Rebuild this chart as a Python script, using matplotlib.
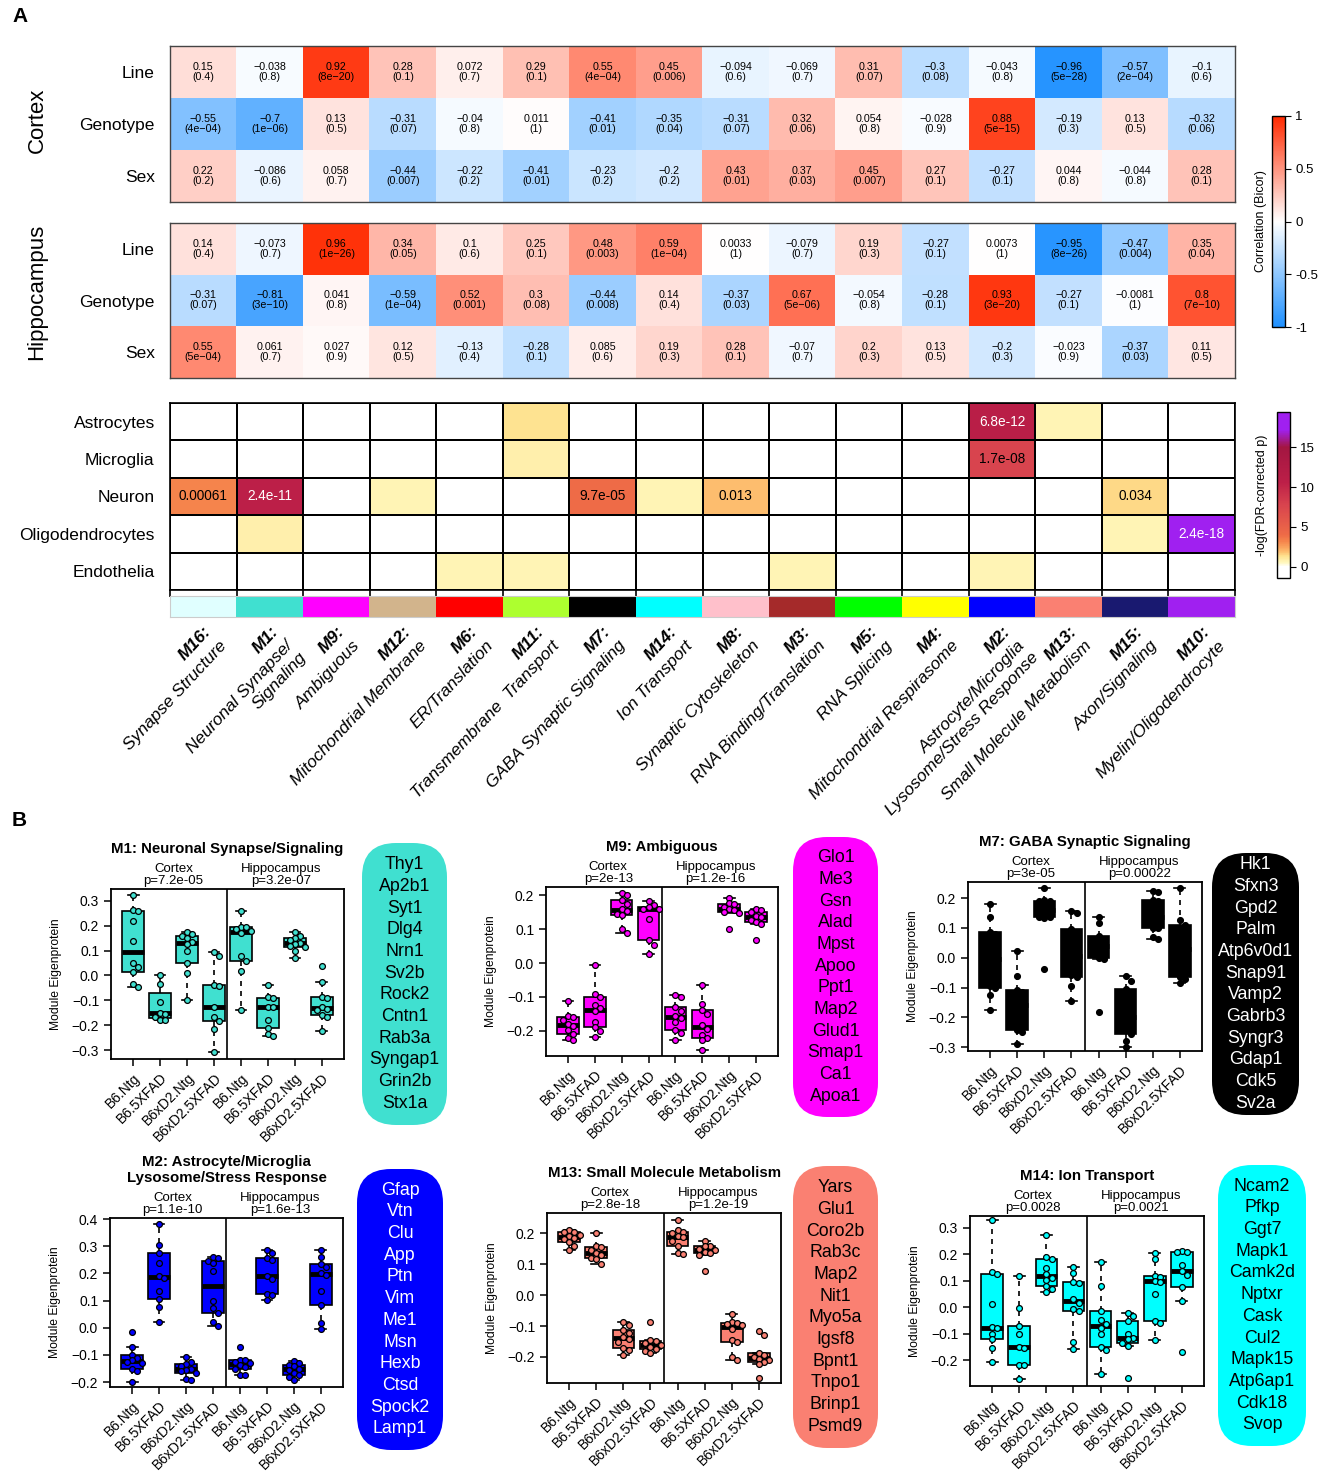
import numpy as np
import matplotlib
matplotlib.use("Agg")
import matplotlib.pyplot as plt
from matplotlib.colors import LinearSegmentedColormap, Normalize, to_rgb
from matplotlib.patches import FancyBboxPatch
from matplotlib.cm import ScalarMappable

plt.rcParams['font.family'] = ['Liberation Sans', 'DejaVu Sans']

W, H = 1325, 1471

# ---------------- panel A data ----------------
modules = ["M16", "M1", "M9", "M12", "M6", "M11", "M7", "M14",
           "M8", "M3", "M5", "M4", "M2", "M13", "M15", "M10"]
module_names = ["Synapse Structure", "Neuronal Synapse/\nSignaling", "Ambiguous",
                "Mitochondrial Membrane", "ER/Translation", "Transmembrane  Transport",
                "GABA Synaptic Signaling", "Ion Transport", "Synaptic Cytoskeleton",
                "RNA Binding/Translation", "RNA Splicing", "Mitochondrial Respirasome",
                "Astrocyte/Microglia\nLysosome/Stress Response", "Small Molecule Metabolism",
                "Axon/Signaling", "Myelin/Oligodendrocyte"]
module_colors = ["#E0FFFF", "#40E0D0", "#FF00FF", "#D2B48C", "#FF0000", "#ADFF2F",
                 "#000000", "#00FFFF", "#FFC0CB", "#A52A2A", "#00FF00", "#FFFF00",
                 "#0000FF", "#FA8072", "#191970", "#A020F0"]

trait_rows = ["Line", "Genotype", "Sex"]

cortex_r = [
    [0.15, -0.038, 0.92, 0.28, 0.072, 0.29, 0.55, 0.45, -0.094, -0.069, 0.31, -0.3, -0.043, -0.96, -0.57, -0.1],
    [-0.55, -0.7, 0.13, -0.31, -0.04, 0.011, -0.41, -0.35, -0.31, 0.32, 0.054, -0.028, 0.88, -0.19, 0.13, -0.32],
    [0.22, -0.086, 0.058, -0.44, -0.22, -0.41, -0.23, -0.2, 0.43, 0.37, 0.45, 0.27, -0.27, 0.044, -0.044, 0.28],
]
cortex_p = [
    ["0.4", "0.8", "8e-20", "0.1", "0.7", "0.1", "4e-04", "0.006", "0.6", "0.7", "0.07", "0.08", "0.8", "5e-28", "2e-04", "0.6"],
    ["4e-04", "1e-06", "0.5", "0.07", "0.8", "1", "0.01", "0.04", "0.07", "0.06", "0.8", "0.9", "5e-15", "0.3", "0.5", "0.06"],
    ["0.2", "0.6", "0.7", "0.007", "0.2", "0.01", "0.2", "0.2", "0.01", "0.03", "0.007", "0.1", "0.1", "0.8", "0.8", "0.1"],
]
hippo_r = [
    [0.14, -0.073, 0.96, 0.34, 0.1, 0.25, 0.48, 0.59, 0.0033, -0.079, 0.19, -0.27, 0.0073, -0.95, -0.47, 0.35],
    [-0.31, -0.81, 0.041, -0.59, 0.52, 0.3, -0.44, 0.14, -0.37, 0.67, -0.054, -0.28, 0.93, -0.27, -0.0081, 0.8],
    [0.55, 0.061, 0.027, 0.12, -0.13, -0.28, 0.085, 0.19, 0.28, -0.07, 0.2, 0.13, -0.2, -0.023, -0.37, 0.11],
]
hippo_p = [
    ["0.4", "0.7", "1e-26", "0.05", "0.6", "0.1", "0.003", "1e-04", "1", "0.7", "0.3", "0.1", "1", "8e-26", "0.004", "0.04"],
    ["0.07", "3e-10", "0.8", "1e-04", "0.001", "0.08", "0.008", "0.4", "0.03", "5e-06", "0.8", "0.1", "3e-20", "0.1", "1", "7e-10"],
    ["5e-04", "0.7", "0.9", "0.5", "0.4", "0.1", "0.6", "0.3", "0.1", "0.7", "0.3", "0.5", "0.3", "0.9", "0.03", "0.5"],
]

celltype_rows = ["Astrocytes", "Microglia", "Neuron", "Oligodendrocytes", "Endothelia"]
# -log10(FDR p) per cell type x module
celltype_logp = [
    [0, 0, 0, 0, 0, 1.3, 0, 0, 0, 0, 0, 0, 11.17, 0.7, 0, 0],
    [0, 0, 0, 0, 0, 0.8, 0, 0, 0, 0, 0, 0, 7.77, 0, 0, 0],
    [3.21, 10.62, 0, 0.7, 0, 0, 4.01, 0.7, 1.89, 0, 0, 0, 0, 0, 1.47, 0],
    [0, 0.8, 0, 0, 0, 0, 0, 0, 0, 0, 0, 0, 0, 0, 0.7, 17.62],
    [0, 0, 0, 0, 0.7, 0.7, 0, 0, 0, 0.7, 0, 0, 0.7, 0, 0, 0],
]
celltype_text = [
    ["", "", "", "", "", "", "", "", "", "", "", "", "6.8e-12", "", "", ""],
    ["", "", "", "", "", "", "", "", "", "", "", "", "1.7e-08", "", "", ""],
    ["0.00061", "2.4e-11", "", "", "", "", "9.7e-05", "", "0.013", "", "", "", "", "", "0.034", ""],
    ["", "", "", "", "", "", "", "", "", "", "", "", "", "", "", "2.4e-18"],
    ["", "", "", "", "", "", "", "", "", "", "", "", "", "", "", ""],
]

# ---------------- panel B data ----------------
groups = ["B6.Ntg", "B6.5XFAD", "B6xD2.Ntg", "B6xD2.5XFAD"] * 2

m1_eig = [
    [0.324, 0.264, 0.26, 0.22, 0.14, 0.05, 0.036, 0.016, -0.034, -0.047],
    [0.0, -0.034, -0.107, -0.15, -0.155, -0.168, -0.178, -0.181],
    [0.177, 0.165, 0.158, 0.152, 0.135, 0.128, 0.097, 0.052, 0.012, -0.098],
    [0.093, 0.077, -0.037, -0.044, -0.125, -0.165, -0.185, -0.216, -0.306],
    [0.258, 0.197, 0.195, 0.186, 0.178, 0.172, 0.079, 0.059, 0.02, -0.138],
    [-0.04, -0.085, -0.092, -0.125, -0.128, -0.18, -0.21, -0.236, -0.244],
    [0.173, 0.16, 0.15, 0.143, 0.132, 0.128, 0.12, 0.114, 0.097, 0.07],
    [0.04, -0.027, -0.087, -0.09, -0.125, -0.134, -0.138, -0.16, -0.165, -0.225],
]
m9_eig = [
    [-0.112, -0.155, -0.16, -0.168, -0.18, -0.185, -0.198, -0.208, -0.22, -0.227],
    [-0.006, -0.09, -0.1, -0.125, -0.134, -0.142, -0.173, -0.19, -0.201, -0.218],
    [0.207, 0.2, 0.186, 0.175, 0.158, 0.153, 0.145, 0.141, 0.099, 0.087],
    [0.183, 0.17, 0.164, 0.16, 0.159, 0.131, 0.067, 0.053, 0.028],
    [-0.095, -0.1, -0.131, -0.14, -0.155, -0.162, -0.175, -0.198, -0.205, -0.226],
    [-0.065, -0.12, -0.137, -0.15, -0.183, -0.195, -0.213, -0.222, -0.228, -0.257],
    [0.192, 0.176, 0.175, 0.165, 0.16, 0.157, 0.15, 0.146, 0.099],
    [0.16, 0.155, 0.15, 0.14, 0.136, 0.128, 0.121, 0.115, 0.067],
]
m7_eig = [
    [0.181, 0.135, 0.085, 0.08, 0.02, -0.03, -0.095, -0.1, -0.126, -0.176],
    [0.024, -0.06, -0.11, -0.115, -0.16, -0.2, -0.244, -0.25, -0.29],
    [0.234, 0.194, 0.19, 0.189, 0.17, 0.15, 0.138, 0.135, 0.133, -0.039],
    [0.156, 0.149, 0.096, 0.08, 0.02, -0.01, -0.058, -0.065, -0.096, -0.145],
    [0.136, 0.115, 0.073, 0.06, 0.04, 0.03, 0.0, -0.005, -0.182],
    [-0.062, -0.078, -0.106, -0.15, -0.2, -0.24, -0.255, -0.278, -0.298],
    [0.225, 0.219, 0.194, 0.19, 0.15, 0.12, 0.1, 0.098, 0.071, 0.063],
    [0.234, 0.125, 0.11, 0.08, 0.03, -0.02, -0.065, -0.07, -0.084],
]
m2_eig = [
    [-0.015, -0.07, -0.1, -0.112, -0.12, -0.125, -0.13, -0.153, -0.16, -0.199],
    [0.382, 0.304, 0.274, 0.24, 0.19, 0.185, 0.136, 0.107, 0.077, 0.022],
    [-0.107, -0.125, -0.135, -0.14, -0.15, -0.156, -0.16, -0.166, -0.19, -0.193],
    [0.261, 0.255, 0.247, 0.239, 0.21, 0.1, 0.071, 0.053, 0.02, 0.007],
    [-0.07, -0.117, -0.12, -0.125, -0.13, -0.138, -0.145, -0.15, -0.172, -0.175],
    [0.286, 0.275, 0.258, 0.25, 0.19, 0.18, 0.124, 0.119, 0.102],
    [-0.121, -0.128, -0.137, -0.142, -0.15, -0.156, -0.165, -0.172, -0.183, -0.193],
    [0.286, 0.259, 0.233, 0.225, 0.2, 0.196, 0.136, 0.085, 0.016, -0.005],
]
m13_eig = [
    [0.211, 0.205, 0.203, 0.195, 0.19, 0.185, 0.18, 0.171, 0.16, 0.144],
    [0.2, 0.157, 0.155, 0.145, 0.135, 0.13, 0.12, 0.115, 0.101],
    [-0.087, -0.096, -0.114, -0.123, -0.135, -0.141, -0.15, -0.17, -0.178, -0.195],
    [-0.087, -0.146, -0.148, -0.155, -0.162, -0.168, -0.175, -0.181, -0.187],
    [0.244, 0.209, 0.205, 0.2, 0.19, 0.188, 0.176, 0.159, 0.135, 0.133],
    [0.176, 0.16, 0.157, 0.15, 0.144, 0.14, 0.135, 0.128, 0.077],
    [-0.06, -0.087, -0.09, -0.094, -0.097, -0.11, -0.144, -0.15, -0.2, -0.209],
    [-0.116, -0.13, -0.187, -0.195, -0.2, -0.205, -0.21, -0.215, -0.222, -0.267],
]
m14_eig = [
    [0.328, 0.132, 0.127, 0.013, -0.075, -0.08, -0.1, -0.122, -0.156, -0.206],
    [0.119, -0.004, -0.071, -0.1, -0.149, -0.155, -0.219, -0.22, -0.272],
    [0.272, 0.19, 0.182, 0.15, 0.125, 0.112, 0.104, 0.082, 0.07, 0.058],
    [0.151, 0.129, 0.097, 0.09, 0.03, 0.015, -0.005, -0.016, -0.13, -0.159],
    [0.17, 0.082, -0.014, -0.05, -0.062, -0.08, -0.1, -0.149, -0.16, -0.254],
    [-0.023, -0.033, -0.054, -0.1, -0.118, -0.12, -0.134, -0.146, -0.267],
    [0.205, 0.184, 0.119, 0.115, 0.1, 0.095, 0.051, -0.054, -0.06, -0.124],
    [0.211, 0.21, 0.209, 0.158, 0.138, 0.12, 0.076, 0.025, -0.168],
]

m1_genes = ["Thy1", "Ap2b1", "Syt1", "Dlg4", "Nrn1", "Sv2b", "Rock2", "Cntn1", "Rab3a", "Syngap1", "Grin2b", "Stx1a"]
m9_genes = ["Glo1", "Me3", "Gsn", "Alad", "Mpst", "Apoo", "Ppt1", "Map2", "Glud1", "Smap1", "Ca1", "Apoa1"]
m7_genes = ["Hk1", "Sfxn3", "Gpd2", "Palm", "Atp6v0d1", "Snap91", "Vamp2", "Gabrb3", "Syngr3", "Gdap1", "Cdk5", "Sv2a"]
m2_genes = ["Gfap", "Vtn", "Clu", "App", "Ptn", "Vim", "Me1", "Msn", "Hexb", "Ctsd", "Spock2", "Lamp1"]
m13_genes = ["Yars", "Glu1", "Coro2b", "Rab3c", "Map2", "Nit1", "Myo5a", "Igsf8", "Bpnt1", "Tnpo1", "Brinp1", "Psmd9"]
m14_genes = ["Ncam2", "Pfkp", "Ggt7", "Mapk1", "Camk2d", "Nptxr", "Cask", "Cul2", "Mapk15", "Atp6ap1", "Cdk18", "Svop"]

m1_p = ("7.2e-05", "3.2e-07")
m9_p = ("2e-13", "1.2e-16")
m7_p = ("3e-05", "0.00022")
m2_p = ("1.1e-10", "1.6e-13")
m13_p = ("2.8e-18", "1.2e-19")
m14_p = ("0.0028", "0.0021")


# ---------------- helpers ----------------
def px_rect(x0, y0, x1, y1):
    return [x0 / W, 1 - y1 / H, (x1 - x0) / W, (y1 - y0) / H]


def minus(s):
    return s.replace("-", "\u2212")


def fivenum(v):
    x = np.sort(np.asarray(v, float))
    n = len(x)
    n4 = np.floor((n + 3) / 2) / 2
    d = np.array([1, n4, (n + 1) / 2, n + 1 - n4, n]) - 1
    return 0.5 * (x[np.floor(d).astype(int)] + x[np.ceil(d).astype(int)])


def swarm_offsets(vals, xstep, ystep):
    placed, offs = [], []
    for v in vals:
        for k in [0, 1, -1, 2, -2, 3, -3]:
            x = k * xstep
            if all(((x - px) / xstep) ** 2 + ((v - py) / ystep) ** 2 >= 0.99 for px, py in placed):
                break
        placed.append((x, v))
        offs.append(x)
    return np.array(offs)


fig = plt.figure(figsize=(W / 100, H / 100), dpi=100)

corr_cmap = LinearSegmentedColormap.from_list("bwr", ["#1E90FF", "#FFFFFF", "#FF2A00"])
ct_norm = Normalize(-1.4, 19.4)
ct_stops = [(-1.4, "#FFFFFF"), (0, "#FFFFFF"), (0.5, "#FFF7BC"), (1.3, "#FEE391"),
            (1.9, "#FDBB6C"), (3.2, "#F5834B"), (4.0, "#EE6B47"), (7.8, "#D8434E"),
            (10.6, "#BC1F48"), (15.0, "#A31641"), (17.2, "#A020F0"), (19.4, "#A020F0")]
ct_cmap = LinearSegmentedColormap.from_list(
    "ct", [(ct_norm(v), c) for v, c in ct_stops])


def corr_heatmap(rect, r, p):
    ax = fig.add_axes(px_rect(*rect))
    ax.imshow(np.array(r), cmap=corr_cmap, vmin=-1, vmax=1, aspect="auto",
              interpolation="nearest")
    for i in range(len(r)):
        for j in range(len(r[i])):
            ax.text(j, i, minus(f"{r[i][j]:g}\n({p[i][j]})"), ha="center", va="center",
                    fontsize=7.7, linespacing=1.0)
    ax.set_xticks([])
    ax.set_yticks(range(3), trait_rows, fontsize=12.5)
    ax.tick_params(axis="y", length=0, pad=11)
    for s in ax.spines.values():
        s.set_color("#444444")
        s.set_linewidth(1)
    return ax


corr_heatmap((170, 46, 1235, 202), cortex_r, cortex_p)
corr_heatmap((170, 223, 1235, 378), hippo_r, hippo_p)
fig.text(37 / W, 1 - 120 / H, "Cortex", rotation=90, ha="center", va="center", fontsize=16)
fig.text(37 / W, 1 - 292 / H, "Hippocampus", rotation=90, ha="center", va="center", fontsize=16)

# cell-type enrichment grid
ax = fig.add_axes(px_rect(170, 403, 1235, 590))
ax.pcolormesh(np.arange(17), np.arange(6), np.array(celltype_logp), cmap=ct_cmap,
              norm=ct_norm, edgecolors="black", linewidth=1.2)
ax.set_xlim(0, 16)
ax.set_ylim(5, 0)
for i in range(5):
    for j in range(16):
        lab = celltype_text[i][j]
        if lab:
            col = "white" if celltype_logp[i][j] > 9 else "black"
            ax.text(j + 0.5, i + 0.5, lab, ha="center", va="center", fontsize=9.8, color=col)
ax.set_yticks(np.arange(5) + 0.5, celltype_rows, fontsize=12.5)
ax.tick_params(axis="y", length=0, pad=11)
ax.set_xticks(np.arange(17))
ax.tick_params(axis="x", length=5, width=1.2, labelbottom=False)
for s in ax.spines.values():
    s.set_linewidth(1.2)

# module colour strip and labels
sax = fig.add_axes(px_rect(170, 596, 1235, 617))
sax.imshow([[to_rgb(c) for c in module_colors]], aspect="auto", extent=(-0.5, 15.5, 0, 1))
sax.set_xlim(-0.5, 15.5)
sax.set_xticks([])
sax.set_yticks([])
for s in sax.spines.values():
    s.set_color("#cccccc")
    s.set_linewidth(0.8)
ang = 47
L = 15.0
for j, (m, nm) in enumerate(zip(modules, module_names)):
    sax.annotate(m + ":", xy=(j, 0), xycoords=("data", "axes fraction"),
                 xytext=(0, -5), textcoords="offset points", rotation=ang,
                 rotation_mode="anchor", ha="right", va="top", fontsize=12.5,
                 fontweight="bold", fontstyle="italic")
    dx = L * np.sin(np.radians(ang))
    dy = -L * np.cos(np.radians(ang))
    sax.annotate(nm, xy=(j, 0), xycoords=("data", "axes fraction"),
                 xytext=(dx, -5 + dy), textcoords="offset points", rotation=ang,
                 rotation_mode="anchor", ha="right", va="top", fontsize=12.5,
                 fontstyle="italic", multialignment="right", linespacing=1.2)

# colour bars
cax1 = fig.add_axes(px_rect(1272, 116, 1285, 327))
cb1 = fig.colorbar(ScalarMappable(Normalize(-1, 1), corr_cmap), cax=cax1,
                   ticks=[-1, -0.5, 0, 0.5, 1])
cb1.ax.set_yticklabels(["-1", "-0.5", "0", "0.5", "1"])
cb1.ax.tick_params(labelsize=9.5, length=4)
cb1.outline.set_linewidth(1)
cax1.text(-0.85, 0.5, "Correlation (Bicor)", transform=cax1.transAxes, rotation=90,
          ha="center", va="center", fontsize=9)

cax2 = fig.add_axes(px_rect(1277, 412, 1290, 578))
cb2 = fig.colorbar(ScalarMappable(ct_norm, ct_cmap), cax=cax2, ticks=[0, 5, 10, 15])
cb2.ax.tick_params(labelsize=9.5, length=4)
cb2.outline.set_linewidth(1)
cax2.text(-1.15, 0.5, "-log(FDR-corrected p)", transform=cax2.transAxes, rotation=90,
          ha="center", va="center", fontsize=9)

fig.text(12 / W, 1 - 17 / H, "A", fontsize=15, fontweight="bold", va="center")
fig.text(12 / W, 1 - 820 / H, "B", fontsize=15, fontweight="bold", va="center")


# ---------------- panel B ----------------
def box_panel(rect, ylim, yticks, title, pvals, vals, color, genes, gbox, gtext):
    ax = fig.add_axes(px_rect(*rect))
    stats = []
    for v in vals:
        lo, q1, med, q3, hi = fivenum(v)
        iqr = q3 - q1
        arr = np.asarray(v)
        wlo = arr[arr >= q1 - 1.5 * iqr].min()
        whi = arr[arr <= q3 + 1.5 * iqr].max()
        stats.append(dict(med=med, q1=q1, q3=q3, whislo=wlo, whishi=whi, fliers=[]))
    ax.bxp(stats, positions=range(1, 9), widths=0.8, capwidths=0.4, showfliers=False,
           patch_artist=True,
           boxprops=dict(facecolor=color, edgecolor="black", linewidth=1.2),
           medianprops=dict(color="black", linewidth=3.5, solid_capstyle="butt"),
           whiskerprops=dict(color="black", linewidth=1.2, linestyle=(0, (3, 3))),
           capprops=dict(color="black", linewidth=1.2))
    ystep = (ylim[1] - ylim[0]) * 5.0 / (rect[3] - rect[1])
    for k, v in enumerate(vals):
        xs = swarm_offsets(v, 0.19, ystep)
        ax.plot(k + 1 + xs, v, "o", ms=4.2, mfc=color, mec="black", mew=0.9, zorder=3)
    ax.axvline(4.5, color="black", lw=1.2)
    ax.set_xlim(0.18, 8.82)
    ax.set_ylim(*ylim)
    ax.set_yticks(yticks, [minus(f"{t:.1f}") for t in yticks])
    ax.set_xticks(range(1, 9), groups, rotation=45, ha="right", rotation_mode="anchor")
    ax.tick_params(length=5, width=1.1, labelsize=10)
    ax.set_ylabel("Module Eigenprotein", fontsize=8.7, labelpad=7)
    for s in ax.spines.values():
        s.set_linewidth(1.3)
    ax.annotate(title, xy=(0.5, 1), xycoords="axes fraction", xytext=(0, 24),
                textcoords="offset points", ha="center", va="bottom", fontsize=10.8,
                fontweight="bold", linespacing=1.15)
    for xc, reg, p in [(2.5, "Cortex", pvals[0]), (6.5, "Hippocampus", pvals[1])]:
        ax.annotate(f"{reg}\np={p}", xy=(xc, 1), xycoords=("data", "axes fraction"),
                    xytext=(0, 1.5), textcoords="offset points", ha="center", va="bottom",
                    fontsize=9.5, linespacing=0.95)
    x0, y0, x1, y1 = gbox
    patch = FancyBboxPatch((x0 / 100, (H - y1) / 100), (x1 - x0) / 100, (y1 - y0) / 100,
                           boxstyle="round,pad=0,rounding_size=0.34",
                           transform=fig.dpi_scale_trans, facecolor=color, edgecolor="none")
    fig.add_artist(patch)
    fig.text((x0 + x1) / 2 / W, 1 - (y0 + y1) / 2 / H, "\n".join(genes), ha="center",
             va="center", fontsize=12.8, color=gtext, linespacing=1.36)


box_panel((111, 889, 344, 1059), (-0.336, 0.348), np.arange(-0.3, 0.31, 0.1),
          "M1: Neuronal Synapse/Signaling", m1_p, m1_eig, "#40E0D0", m1_genes,
          (362, 843, 447, 1125), "black")
box_panel((546, 887, 778, 1056), (-0.274, 0.224), np.arange(-0.2, 0.21, 0.1),
          "M9: Ambiguous", m9_p, m9_eig, "#FF00FF", m9_genes,
          (793, 837, 878, 1117), "black")
box_panel((968, 882, 1202, 1051), (-0.313, 0.254), np.arange(-0.3, 0.21, 0.1),
          "M7: GABA Synaptic Signaling", m7_p, m7_eig, "#000000", m7_genes,
          (1212, 853, 1299, 1115), "white")
box_panel((110, 1218, 343, 1387), (-0.218, 0.404), np.arange(-0.2, 0.41, 0.1),
          "M2: Astrocyte/Microglia\nLysosome/Stress Response", m2_p, m2_eig, "#0000FF",
          m2_genes, (357, 1169, 443, 1450), "white")
box_panel((547, 1213, 781, 1383), (-0.284, 0.265), np.arange(-0.2, 0.21, 0.1),
          "M13: Small Molecule Metabolism", m13_p, m13_eig, "#FA8072", m13_genes,
          (793, 1166, 878, 1448), "black")
box_panel((970, 1216, 1204, 1386), (-0.298, 0.345), np.arange(-0.2, 0.31, 0.1),
          "M14: Ion Transport", m14_p, m14_eig, "#00FFFF", m14_genes,
          (1218, 1165, 1306, 1446), "black")

fig.savefig("out.png", dpi=100)
